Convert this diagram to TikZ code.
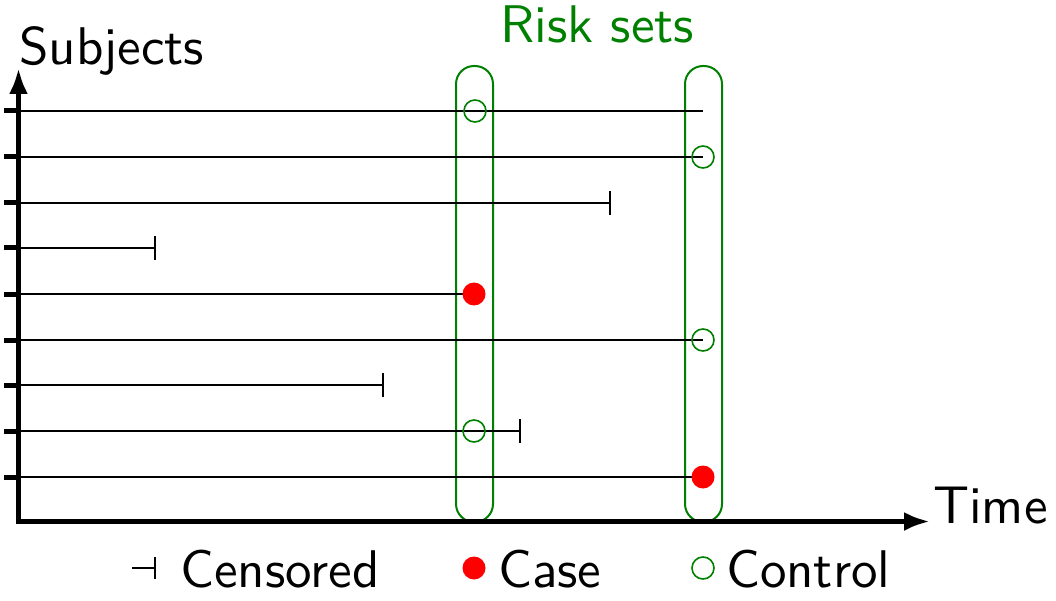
\documentclass[tikz,border=0pt]{standalone}
\usepackage{fontspec}
\setsansfont{lmsans10-regular.otf}
\usetikzlibrary{arrows.meta}
\definecolor{riskgreen}{RGB}{0,128,0}
\begin{document}
\begin{tikzpicture}[x=1pt,y=-1pt,
  lbl/.style={font=\sffamily\fontsize{53}{60}\selectfont,inner sep=0pt,anchor=base west},
  axisline/.style={line width=5pt,{Latex[length=26pt,width=19pt]}-{Latex[length=26pt,width=19pt]}},
  tickmark/.style={line width=5pt},
  subj/.style={line width=2pt},
  censbar/.style={line width=2pt},
  riskbox/.style={draw=riskgreen,line width=2pt,rounded corners=18pt},
  ctrl/.style={circle,draw=riskgreen,line width=1.6pt,minimum size=22pt,inner sep=0pt},
  casedot/.style={circle,fill=red,minimum size=23pt,inner sep=0pt}]
\useasboundingbox (0,0) rectangle (1056,601);
% axes
\coordinate (ytop) at (18.5,68);
\coordinate (orig) at (18.5,521.5);
\coordinate (xend) at (930,521.5);
% risk set boxes
\draw[riskbox] (456,66) rectangle (493,522);
\draw[riskbox] (685,66) rectangle (722,522);
% subject lines
\foreach \i/\y/\e in {1/111/703,2/157/703,3/203/610,4/248/155,5/294/474,6/340/703,7/385/383,8/431/520,9/477/703}{
  \coordinate (s\i) at (18.5,\y);
  \coordinate (e\i) at (\e,\y);
  \coordinate (t\i) at (4,\y);
  \draw[subj] (s\i) -- (e\i);
  \draw[tickmark] (t\i) -- (s\i);
}
% censor marks
\foreach \i in {3,4,7,8}{
  \draw[censbar] ([yshift=-12pt]e\i) -- ([yshift=12pt]e\i);
}
% controls
\node[ctrl] (c1) at (475,111) {};
\node[ctrl] (c2) at (703,157) {};
\node[ctrl] (c6) at (703,340) {};
\node[ctrl] (c8) at (474,431) {};
% cases
\node[casedot] (d5) at (474,294) {};
\node[casedot] (d9) at (703,477) {};
\draw[axisline] (ytop) -- (orig) -- (xend);
% labels
\node[lbl] (subjects) at (19,65) {Subjects};
\node[lbl,text=riskgreen] (risk) at (500,43) {Risk sets};
\node[lbl] (time) at (933,523) {Time};
% legend
\coordinate (lca) at (132,568);
\coordinate (lcb) at (155,568);
\draw[censbar] (lca) -- (lcb);
\draw[censbar] ([yshift=-11pt]lcb) -- ([yshift=11pt]lcb);
\node[lbl] (cens) at (180,587) {Censored};
\node[casedot] (lcase) at (474,568) {};
\node[lbl] (case) at (498,587) {Case};
\node[ctrl] (lctrl) at (703,568) {};
\node[lbl] (control) at (726,587) {Control};
\end{tikzpicture}
\end{document}
